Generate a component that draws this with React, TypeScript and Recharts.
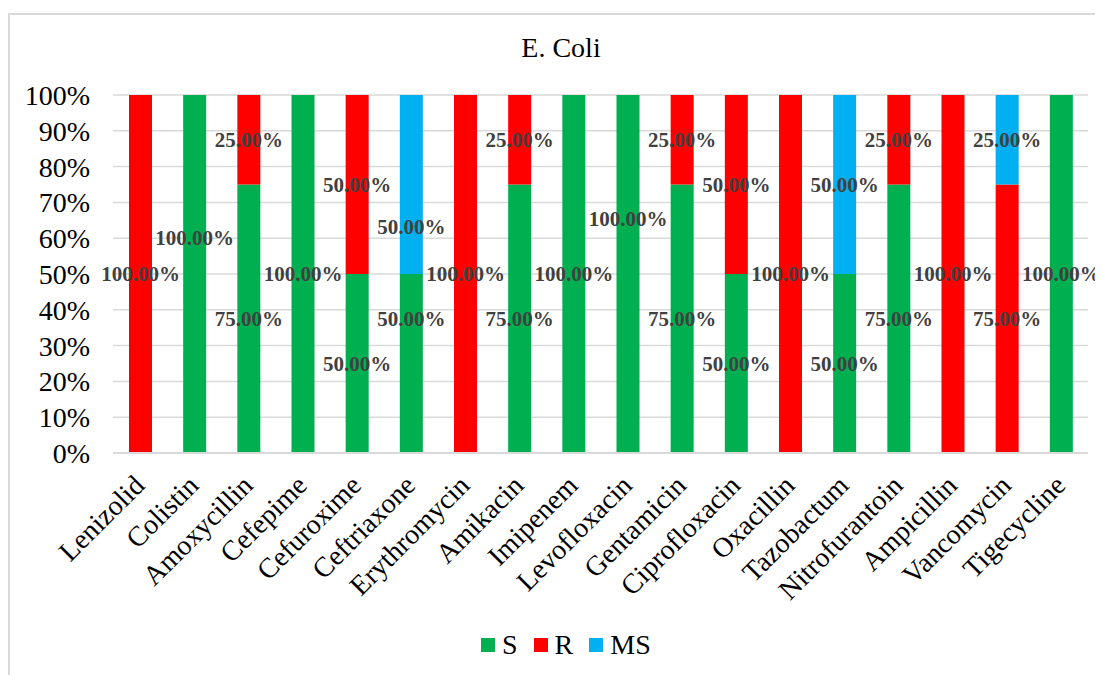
import React from 'react';
import { BarChart, Bar, XAxis, YAxis, CartesianGrid, Legend, LabelList } from 'recharts';

const categories = [
  'Lenizolid', 'Colistin', 'Amoxycillin', 'Cefepime', 'Cefuroxime', 'Ceftriaxone',
  'Erythromycin', 'Amikacin', 'Imipenem', 'Levofloxacin', 'Gentamicin', 'Ciprofloxacin',
  'Oxacillin', 'Tazobactum', 'Nitrofurantoin', 'Ampicillin', 'Vancomycin', 'Tigecycline',
];
const sValues = [0, 100, 75, 100, 50, 50, 0, 75, 100, 100, 75, 50, 0, 50, 75, 0, 0, 100];
const rValues = [100, 0, 25, 0, 50, 0, 100, 25, 0, 0, 25, 50, 100, 0, 25, 100, 75, 0];
const msValues = [0, 0, 0, 0, 0, 50, 0, 0, 0, 0, 0, 0, 0, 50, 0, 0, 25, 0];
const yTicks = [0, 10, 20, 30, 40, 50, 60, 70, 80, 90, 100];
const seriesNames = ['S', 'R', 'MS'];
const seriesColors = ['#00B050', '#FF0000', '#00B0F0'];

const data = categories.map((name, i) => ({
  name,
  S: sValues[i],
  R: rValues[i],
  MS: msValues[i],
}));

// Manually moved data labels (absolute percentage where the label sits)
const labelOverrides: Record<string, number> = {
  'Colistin|S': 60,
  'Levofloxacin|S': 65.5,
  'Ceftriaxone|S': 37.5,
  'Ceftriaxone|MS': 63,
};

const FONT = "'Liberation Serif', 'DejaVu Serif', serif";

const makeLabel = (key: string) => (props: any) => {
  const { x, y, width, height, value } = props;
  const name = String(value).split('|')[0];
  const row = data.find((d) => d.name === name);
  if (!row) return null;
  const v = (row as any)[key] as number;
  if (!v) return null;
  const start = key === 'S' ? 0 : key === 'R' ? row.S : row.S + row.R;
  const end = start + v;
  const ov = labelOverrides[`${row.name}|${key}`];
  let cy = y + height / 2;
  if (ov !== undefined) {
    cy = y + (height * (end - ov)) / (end - start);
  }
  return (
    <text
      x={x + width / 2}
      y={cy}
      textAnchor="middle"
      dominantBaseline="central"
      fontFamily={FONT}
      fontWeight="bold"
      fontSize={21}
      fill="#404040"
    >
      {v.toFixed(2) + '%'}
    </text>
  );
};

const XTick = (props: any) => {
  const { x, y, payload } = props;
  return (
    <g transform={`translate(${x + 6},${y + 26})`}>
      <text x={0} y={0} textAnchor="end" transform="rotate(-45)" fontFamily={FONT} fontSize={28} fill="#000">
        {payload.value}
      </text>
    </g>
  );
};

const LegendContent = () => (
  <div style={{ display: 'flex', alignItems: 'center', height: 30, fontFamily: FONT, fontSize: 28, color: '#000' }}>
    {seriesNames.map((n, i) => (
      <div key={n} style={{ display: 'flex', alignItems: 'center', marginRight: i < 2 ? 16 : 0 }}>
        <span style={{ display: 'inline-block', width: 14, height: 14, background: seriesColors[i], marginRight: 7 }} />
        <span style={{ lineHeight: '30px' }}>{n}</span>
      </div>
    ))}
  </div>
);

export default function App() {
  return (
    <div style={{ paddingTop: 5 }}>
      <div
        style={{
          position: 'relative',
          width: 1095,
          height: 662,
          borderLeft: '2px solid #D9D9D9',
          borderTop: '2px solid #D9D9D9',
          boxSizing: 'border-box',
          overflow: 'hidden',
          background: '#fff',
        }}
      >
        <div
          style={{
            position: 'absolute',
            left: 0,
            top: 19,
            width: 1102,
            textAlign: 'center',
            fontFamily: FONT,
            fontSize: 28,
            lineHeight: 1,
            color: '#000',
          }}
        >
          E. Coli
        </div>
        <BarChart
          width={1093}
          height={660}
          data={data}
          margin={{ top: 80, right: 15, left: 0, bottom: 0 }}
          barSize={23}
        >
          <CartesianGrid vertical={false} stroke="#D9D9D9" strokeWidth={1.5} />
          <XAxis
            dataKey="name"
            interval={0}
            height={192}
            tickLine={false}
            axisLine={{ stroke: '#D9D9D9', strokeWidth: 2 }}
            tick={<XTick />}
          />
          <YAxis
            domain={[0, 100]}
            ticks={yTicks}
            interval={0}
            width={103}
            axisLine={false}
            tickLine={false}
            tickSize={0}
            tickMargin={23}
            tickFormatter={(v: number) => `${v}%`}
            tick={{ fontFamily: FONT, fontSize: 28, fill: '#000' }}
          />
          <Legend
            verticalAlign="bottom"
            content={<LegendContent />}
            wrapperStyle={{ left: 471, top: 615, bottom: 'auto', width: 'auto' }}
          />
          <Bar dataKey="S" stackId="a" fill={seriesColors[0]} isAnimationActive={false}>
            <LabelList dataKey={(d: any) => `${d.name}|S`} content={makeLabel('S')} />
          </Bar>
          <Bar dataKey="R" stackId="a" fill={seriesColors[1]} isAnimationActive={false}>
            <LabelList dataKey={(d: any) => `${d.name}|R`} content={makeLabel('R')} />
          </Bar>
          <Bar dataKey="MS" stackId="a" fill={seriesColors[2]} isAnimationActive={false}>
            <LabelList dataKey={(d: any) => `${d.name}|MS`} content={makeLabel('MS')} />
          </Bar>
        </BarChart>
      </div>
    </div>
  );
}
